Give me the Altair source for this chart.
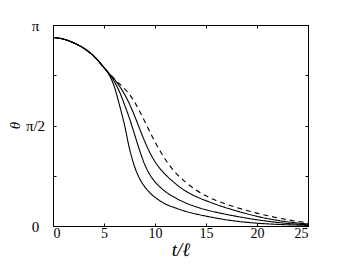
import altair as alt
import pandas as pd

# theta values are in units of pi
common_t = [0, 1, 2, 3, 4, 5]
common_theta = [0.938, 0.930, 0.912, 0.885, 0.845, 0.788]

t1 = [5.5, 6.0, 6.5, 7.0, 7.5, 8.0, 8.5, 9.0, 9.5, 10, 11, 12, 13, 14, 15.1, 17.5, 20, 22.5, 25]
th1 = [0.752, 0.695, 0.605, 0.505, 0.385, 0.295, 0.235, 0.195, 0.165, 0.143, 0.11, 0.09,
       0.073, 0.06, 0.048, 0.027, 0.014, 0.007, 0.003]

t2 = [5.5, 6.0, 6.5, 7.0, 7.5, 8.0, 8.5, 9.0, 9.5, 10, 11, 12, 13, 14, 15.1, 16.4, 18, 20,
      22.5, 25]
th2 = [0.757, 0.72, 0.67, 0.605, 0.535, 0.455, 0.375, 0.305, 0.255, 0.22, 0.172, 0.14,
       0.115, 0.096, 0.079, 0.064, 0.048, 0.031, 0.015, 0.006]

t3 = [5.5, 6.0, 6.5, 7.0, 7.5, 8.0, 8.5, 9.0, 9.5, 10, 10.5, 11, 12, 13, 14, 15.1, 16.4,
      18, 20, 22.5, 25]
th3 = [0.759, 0.731, 0.697, 0.657, 0.607, 0.548, 0.483, 0.42, 0.365, 0.32, 0.285, 0.257,
       0.211, 0.174, 0.147, 0.124, 0.1, 0.075, 0.048, 0.024, 0.01]

td = [5.5, 6.0, 6.5, 7.0, 7.5, 8.0, 8.5, 9.0, 9.5, 10, 10.5, 11, 11.5, 12, 13, 14, 15, 16,
      17, 18, 20, 22.5, 25]
thd = [0.76, 0.733, 0.708, 0.684, 0.655, 0.617, 0.57, 0.52, 0.468, 0.418, 0.373, 0.332,
       0.297, 0.266, 0.218, 0.18, 0.15, 0.127, 0.108, 0.092, 0.064, 0.036, 0.015]

series_names = ["a", "b", "c", "d"]
series_t = [t1, t2, t3, td]
series_th = [th1, th2, th3, thd]

x_ticks = [0, 5, 10, 15, 20, 25]
y_ticks = [0, 0.25, 0.5, 0.75, 1]

rows = []
for name, ts, ths in zip(series_names, series_t, series_th):
    for t, th in zip(common_t + ts, common_theta + ths):
        rows.append({"t": t, "theta": th, "series": name})
df = pd.DataFrame(rows)

FONT = "Liberation Serif"
xscale = alt.Scale(domain=[0, 25], nice=False, zero=False)
yscale = alt.Scale(domain=[0, 1], nice=False)

base = alt.Chart(df)

lines = base.mark_line(interpolate="monotone", color="black", strokeWidth=1.1).encode(
    x=alt.X("t:Q", scale=xscale,
            axis=alt.Axis(values=x_ticks, ticks=False, tickSize=0, domain=False, grid=False,
                          title="t/ℓ", labelFont=FONT, labelFontSize=14, labelPadding=0,
                          labelColor="black", titleFont=FONT, titleFontSize=19,
                          titleFontStyle="italic", titleFontWeight="normal",
                          titleColor="black", titlePadding=0)),
    y=alt.Y("theta:Q", scale=yscale,
            axis=alt.Axis(values=y_ticks, ticks=False, tickSize=0, domain=False, grid=False,
                          labelExpr="datum.value == 0 ? '0' : datum.value == 0.5 ? 'π/2' : datum.value == 1 ? 'π' : ''",
                          labelFont=FONT, labelFontSize=15, labelAlign="center",
                          labelBaseline="middle", labelPadding=18, labelColor="black",
                          title="θ", titleFont=FONT, titleFontSize=15, titleFontStyle="italic",
                          titleFontWeight="normal", titleColor="black", titleAngle=270,
                          titleX=-39, titleY=100, titleAlign="center",
                          titleBaseline="middle")),
    detail="series:N",
    strokeDash=alt.StrokeDash("series:N",
                              scale=alt.Scale(domain=series_names,
                                              range=[[1, 0], [1, 0], [1, 0], [5, 4]]),
                              legend=None),
)

def tick_axis(orient, values):
    return alt.Axis(orient=orient, offset=-3, tickSize=3, tickColor="black", tickWidth=1,
                    values=values, labels=False, domain=False, grid=False, title=None)

ticks_a = base.mark_point(opacity=0).encode(
    x=alt.X("t:Q", scale=xscale, axis=tick_axis("bottom", x_ticks)),
    y=alt.Y("theta:Q", scale=yscale, axis=tick_axis("left", y_ticks)),
)
ticks_b = base.mark_point(opacity=0).encode(
    x=alt.X("t:Q", scale=xscale, axis=tick_axis("top", x_ticks)),
    y=alt.Y("theta:Q", scale=yscale, axis=tick_axis("right", y_ticks)),
)

chart = alt.layer(lines, ticks_a, ticks_b).resolve_axis(
    x="independent", y="independent"
).properties(
    width=255, height=201, autosize="none",
    padding={"left": 45, "top": 17, "right": 30, "bottom": 40},
).configure_view(stroke="black", strokeWidth=1)

chart.save("out.html", embed_options={"renderer": "svg", "actions": False})
